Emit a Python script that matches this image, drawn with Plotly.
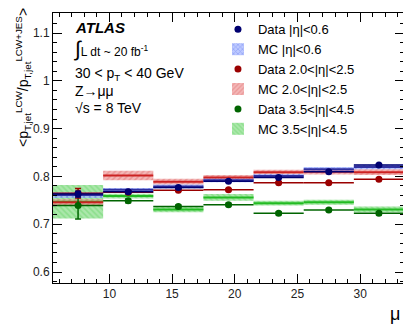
import plotly.graph_objects as go

# mu bins (centres), bin width 4
mu = [7.5, 11.5, 15.5, 19.5, 23.5, 27.5, 31.5]
half_bin = 2.0

# data, |eta|<0.6
data_c = [0.763, 0.768, 0.777, 0.790, 0.798, 0.810, 0.824]
data_c_err = [0.006, 0.002, 0.002, 0.002, 0.002, 0.002, 0.002]
# data, 2.0<|eta|<2.5
data_f = [0.765, 0.767, 0.771, 0.772, 0.787, 0.787, 0.794]
data_f_err = [0.010, 0.003, 0.002, 0.002, 0.002, 0.002, 0.002]
# data, 3.5<|eta|<4.5
data_v = [0.739, 0.749, 0.737, 0.741, 0.723, 0.730, 0.723]
data_v_err = [0.028, 0.004, 0.003, 0.003, 0.003, 0.003, 0.003]

# MC bands
mc_c = [0.761, 0.772, 0.779, 0.792, 0.801, 0.815, 0.820]
mc_c_err = [0.006, 0.004, 0.004, 0.004, 0.004, 0.005, 0.005]
mc_f = [0.746, 0.802, 0.789, 0.798, 0.809, 0.810, 0.809]
mc_f_err = [0.006, 0.010, 0.006, 0.005, 0.005, 0.006, 0.006]
mc_v = [0.747, 0.759, 0.731, 0.756, 0.744, 0.746, 0.731]
mc_v_err = [0.035, 0.005, 0.006, 0.007, 0.005, 0.005, 0.006]

fig = go.Figure()

def add_mc(vals, errs, name, bg, fg, shape, line_col, rank):
    fig.add_trace(go.Bar(
        x=mu, y=[2 * e for e in errs], base=[v - e for v, e in zip(vals, errs)],
        width=2 * half_bin, name=name, legendrank=rank,
        marker=dict(color=bg, line=dict(color="#5a6ad0", width=0),
                    pattern=dict(shape=shape, fgcolor=fg, size=4, solidity=0.4)),
        opacity=0.75, hoverinfo="skip"))
    fig.add_trace(go.Scatter(
        x=mu, y=vals, mode="markers", marker=dict(size=1, color=line_col, opacity=0),
        error_x=dict(type="constant", value=half_bin, width=0, thickness=2, color=line_col),
        showlegend=False, hoverinfo="skip"))

def add_data(vals, errs, name, col, rank):
    fig.add_trace(go.Scatter(
        x=mu, y=vals, mode="markers", name=name, legendrank=rank,
        marker=dict(size=7, color=col),
        error_x=dict(type="constant", value=half_bin, width=0, thickness=1.5, color=col),
        error_y=dict(type="data", array=errs, width=3, thickness=1.5, color=col)))

add_mc(mc_v, mc_v_err, "MC 3.5<|η|<4.5", "#8fe08f", "#3cc83c", "\\", "#22bb22", 6)
add_mc(mc_f, mc_f_err, "MC 2.0<|η|<2.5", "#f0a0a0", "#d84848", "/", "#cc2222", 4)
add_mc(mc_c, mc_c_err, "MC |η|<0.6", "#a8b8ff", "#3355ee", "x", "#3030a0", 2)
add_data(data_v, data_v_err, "Data 3.5<|η|<4.5", "#006400", 5)
add_data(data_f, data_f_err, "Data 2.0<|η|<2.5", "#9a0000", 3)
add_data(data_c, data_c_err, "Data |η|<0.6", "#000070", 1)

axis_common = dict(showline=True, linecolor="black", linewidth=1, mirror="ticks",
                   ticks="inside", ticklen=9, tickcolor="black", showgrid=False,
                   zeroline=False, tickfont=dict(size=12, color="#222"))

fig.update_xaxes(range=[5.5, 33.5], dtick=5, tick0=0,
                 minor=dict(ticks="inside", dtick=1, ticklen=4, tickcolor="black"),
                 **axis_common)
fig.update_yaxes(range=[0.577, 1.142], dtick=0.1, tick0=0,
                 minor=dict(ticks="inside", dtick=0.02, ticklen=4, tickcolor="black"),
                 **axis_common)

texts = [
    ("<b><i>ATLAS</i></b>", 0.058, 0.945, 15),
    ("<span style='font-size:21px'>∫</span>L dt ~ 20 fb<sup>-1</sup>", 0.055, 0.865, 12),
    ("30 < p<sub>T</sub> < 40 GeV", 0.058, 0.775, 14),
    ("Z→μμ", 0.058, 0.71, 14),
    ("√s = 8 TeV", 0.058, 0.65, 14),
]
ann = [dict(text=t, x=x, y=y, xref="paper", yref="paper", xanchor="left", yanchor="middle",
            showarrow=False, font=dict(size=s, color="black")) for t, x, y, s in texts]
ann.append(dict(text="μ", x=0.995, y=-0.115, xref="paper", yref="paper", xanchor="right",
                yanchor="middle", showarrow=False, font=dict(size=18, color="black")))
ann.append(dict(text="&lt;p<sub>T,jet</sub><sup>LCW</sup>/p<sub>T,jet</sub><sup>LCW+JES</sup>&gt;",
                x=-0.085, y=0.76, xref="paper", yref="paper", textangle=-90,
                xanchor="center", yanchor="middle", showarrow=False,
                font=dict(size=14, color="black")))

fig.update_layout(
    width=411, height=324, barmode="overlay",
    margin=dict(l=45, r=15, t=5, b=49),
    paper_bgcolor="white", plot_bgcolor="white",
    font=dict(family="Liberation Sans, Arial, sans-serif", color="black"),
    annotations=ann,
    legend=dict(x=0.47, y=0.995, xanchor="left", yanchor="top", bgcolor="rgba(0,0,0,0)",
                font=dict(size=13), tracegroupgap=0, itemwidth=30),
)

fig.write_html("out.html")
